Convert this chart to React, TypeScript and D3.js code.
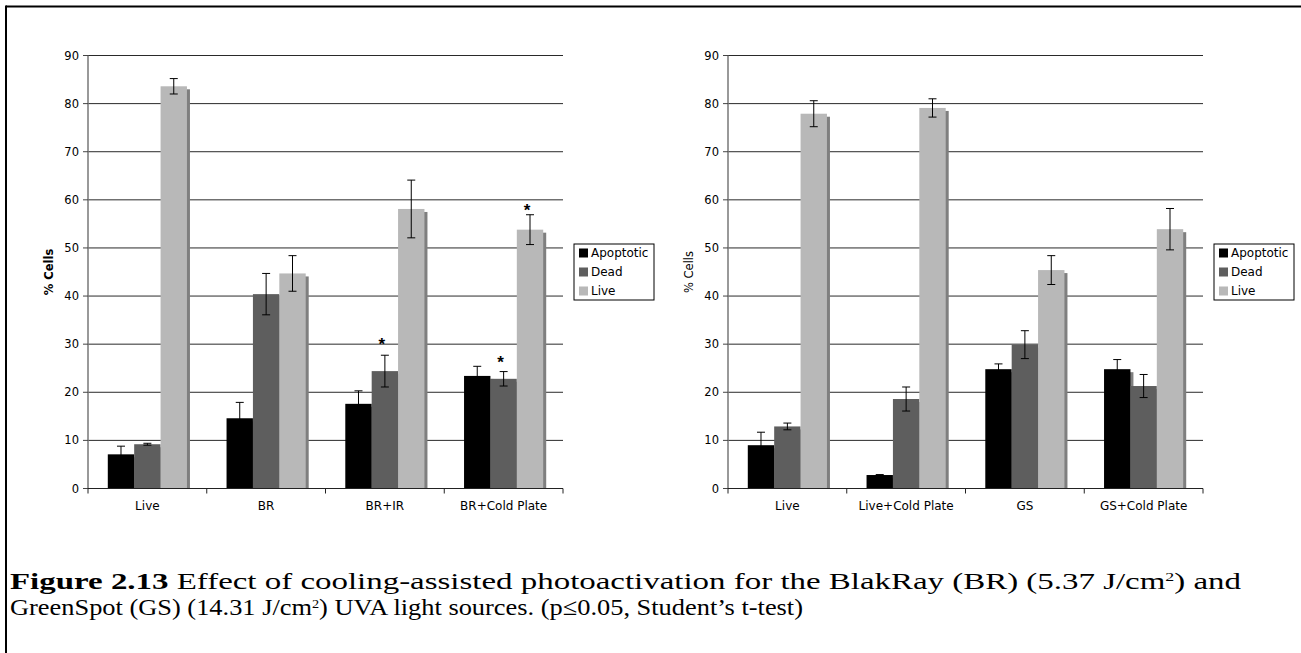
import * as d3 from 'd3';

// series shared by both panels
const seriesNames = ['Apoptotic', 'Dead', 'Live'];
const seriesColors = ['#000000', '#5e5e5e', '#b8b8b8'];
const yTicks = [0, 10, 20, 30, 40, 50, 60, 70, 80, 90];

// BlakRay panel
const leftCategories = ['Live', 'BR', 'BR+IR', 'BR+Cold Plate'];
const leftApoptotic = [7.1, 14.6, 17.6, 23.4];
const leftApoptoticErr = [1.7, 3.3, 2.7, 2.0];
const leftDead = [9.2, 40.4, 24.4, 22.8];
const leftDeadErr = [0.2, 4.3, 3.3, 1.5];
const leftLive = [83.6, 44.7, 58.1, 53.8];
const leftLiveErr = [1.6, 3.7, 6.0, 3.1];
const leftStars = [
  { cat: 'BR+IR', series: 'Dead', at: 30.4 },
  { cat: 'BR+Cold Plate', series: 'Dead', at: 26.8 },
  { cat: 'BR+Cold Plate', series: 'Live', at: 58.3 },
];

// GreenSpot panel
const rightCategories = ['Live', 'Live+Cold Plate', 'GS', 'GS+Cold Plate'];
const rightApoptotic = [9.0, 2.8, 24.8, 24.8];
const rightApoptoticErr = [2.7, 0.1, 1.1, 2.0];
const rightDead = [12.9, 18.6, 29.9, 21.3];
const rightDeadErr = [0.7, 2.5, 2.9, 2.4];
const rightLive = [77.9, 79.1, 45.4, 53.9];
const rightLiveErr = [2.7, 1.9, 3.0, 4.3];

interface Star {
  cat: string;
  series: string;
  at: number;
}

interface PanelProps {
  left: number;
  categories: string[];
  values: number[][];
  errors: number[][];
  stars: Star[];
  boldTitle: boolean;
}

const TOP = 55.5;
const BOTTOM = 488.5;
const PLOT_W = 475;
const SANS = '"DejaVu Sans", Verdana, sans-serif';
const SERIF = "'Liberation Serif', 'Times New Roman', Times, serif";

const Panel = ({ left, categories, values, errors, stars, boldTitle }: PanelProps) => {
  const y = d3.scaleLinear().domain([0, 90]).range([BOTTOM, TOP]);
  const x = d3.scaleBand<string>().domain(categories).range([left, left + PLOT_W]).padding(0);
  const inner = d3
    .scaleBand<string>()
    .domain(seriesNames)
    .range([0, x.bandwidth()])
    .paddingInner(0)
    .paddingOuter(0.75);
  const bw = inner.bandwidth();

  const legendX = left + PLOT_W + 11;

  return (
    <g>
      {/* gridlines */}
      {yTicks.slice(1).map(t => (
        <line key={t} x1={left} x2={left + PLOT_W} y1={y(t)} y2={y(t)} stroke="#2a2a2a" strokeWidth={1} />
      ))}

      {/* bars with drop shadows, one series at a time */}
      {seriesNames.map((s, si) => (
        <g key={s}>
          {categories.map((c, ci) => {
            const bx = (x(c) ?? 0) + (inner(s) ?? 0);
            const by = y(values[si][ci]);
            return (
              <g key={c}>
                <rect x={bx + 3} y={by + 3} width={bw} height={Math.max(0, BOTTOM - by - 3)} fill="#7f7f7f" />
                <rect x={bx} y={by} width={bw} height={BOTTOM - by} fill={seriesColors[si]} />
              </g>
            );
          })}
        </g>
      ))}

      {/* error bars */}
      {seriesNames.map((s, si) =>
        categories.map((c, ci) => {
          const cx = (x(c) ?? 0) + (inner(s) ?? 0) + bw / 2;
          const hi = y(values[si][ci] + errors[si][ci]);
          const lo = y(values[si][ci] - errors[si][ci]);
          return (
            <g key={s + c} stroke="#000" strokeWidth={1}>
              <line x1={cx} x2={cx} y1={hi} y2={lo} />
              <line x1={cx - 4} x2={cx + 4} y1={hi} y2={hi} />
              <line x1={cx - 4} x2={cx + 4} y1={lo} y2={lo} />
            </g>
          );
        })
      )}

      {/* significance marks */}
      {stars.map(st => (
        <text
          key={st.cat + st.series}
          x={(x(st.cat) ?? 0) + (inner(st.series) ?? 0) + bw / 2 - 3}
          y={y(st.at) + 8}
          textAnchor="middle"
          fontFamily="Arial, 'Liberation Sans', sans-serif"
          fontWeight="bold"
          fontSize={17}
        >
          *
        </text>
      ))}

      {/* y axis */}
      <line x1={left} x2={left} y1={TOP} y2={BOTTOM} stroke="#777" strokeWidth={1.5} />
      {yTicks.map(t => (
        <g key={t}>
          <line x1={left - 5} x2={left} y1={y(t)} y2={y(t)} stroke="#444" strokeWidth={1} />
          <text x={left - 9} y={y(t)} dy="0.35em" textAnchor="end" fontFamily={SANS} fontSize={11.5} fill="#000">
            {t}
          </text>
        </g>
      ))}
      <text
        transform={`translate(${left - 39},${(TOP + BOTTOM) / 2}) rotate(-90)`}
        textAnchor="middle"
        dy="0.35em"
        fontFamily={SANS}
        fontSize={11.5}
        fontWeight={boldTitle ? 'bold' : 'normal'}
      >
        % Cells
      </text>

      {/* x axis */}
      <line x1={left} x2={left + PLOT_W} y1={BOTTOM} y2={BOTTOM} stroke="#222" strokeWidth={1.2} />
      {[...categories.map(c => x(c) ?? 0), left + PLOT_W].map((tx, i) => (
        <line key={i} x1={tx} x2={tx} y1={BOTTOM} y2={BOTTOM + 5} stroke="#222" strokeWidth={1} />
      ))}
      {categories.map(c => (
        <text
          key={c}
          x={(x(c) ?? 0) + x.bandwidth() / 2}
          y={BOTTOM + 21}
          textAnchor="middle"
          fontFamily={SANS}
          fontSize={12}
        >
          {c}
        </text>
      ))}

      {/* legend */}
      <rect x={legendX} y={244} width={80} height={56} fill="#fff" stroke="#000" strokeWidth={1} />
      {seriesNames.map((s, i) => (
        <g key={s}>
          <rect x={legendX + 5} y={248.5 + i * 19} width={9} height={9} fill={seriesColors[i]} />
          <text x={legendX + 17} y={253 + i * 19} dy="0.35em" fontFamily={SANS} fontSize={12}>
            {s}
          </text>
        </g>
      ))}
    </g>
  );
};

const App = () => {
  return (
    <div style={{ position: 'absolute', left: 0, top: 0 }}>
      <svg width={1301} height={653} style={{ display: 'block', background: '#fff' }}>
        {/* page frame */}
        <line x1={6} x2={1301} y1={6.5} y2={6.5} stroke="#000" strokeWidth={2} />
        <line x1={6} x2={6} y1={5.5} y2={653} stroke="#000" strokeWidth={2} />

        <Panel
          left={88}
          categories={leftCategories}
          values={[leftApoptotic, leftDead, leftLive]}
          errors={[leftApoptoticErr, leftDeadErr, leftLiveErr]}
          stars={leftStars}
          boldTitle={true}
        />
        <Panel
          left={728}
          categories={rightCategories}
          values={[rightApoptotic, rightDead, rightLive]}
          errors={[rightApoptoticErr, rightDeadErr, rightLiveErr]}
          stars={[]}
          boldTitle={false}
        />

        {/* caption */}
        <g style={{ fontFamily: SERIF, fontSize: '24px' }} fill="#000">
          <text x={10} y={589} textLength={1231} lengthAdjust="spacingAndGlyphs">
            <tspan fontWeight="bold">Figure 2.13</tspan> Effect of cooling-assisted photoactivation for the BlakRay
            (BR) (5.37 J/cm<tspan style={{ fontSize: '13px' }} dy={-8}>2</tspan>
            <tspan dy={8}>) and</tspan>
          </text>
          <text x={10} y={615} textLength={793} lengthAdjust="spacingAndGlyphs">
            GreenSpot (GS) (14.31 J/cm<tspan style={{ fontSize: '13px' }} dy={-7}>2</tspan>
            <tspan dy={7}>) UVA light sources. (p≤0.05, Student’s t-test)</tspan>
          </text>
        </g>
      </svg>
    </div>
  );
};

export default App;
